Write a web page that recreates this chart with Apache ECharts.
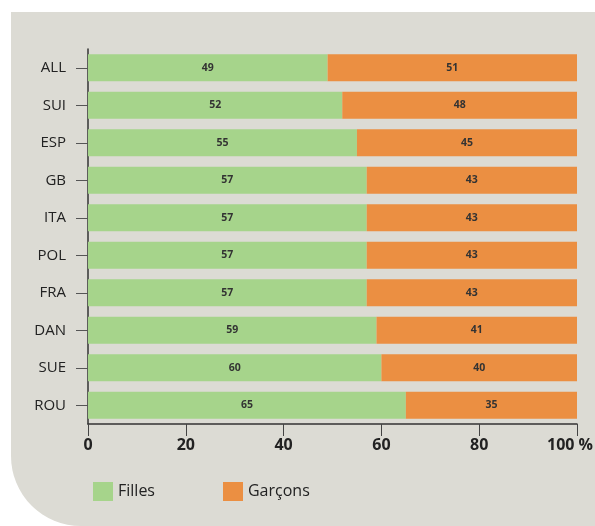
<!DOCTYPE html>
<html>
<head>
<meta charset="utf-8">
<script src="https://cdn.jsdelivr.net/npm/echarts@6/dist/echarts.min.js"></script>
<style>
  html, body { margin: 0; padding: 0; background: #ffffff; }
  .panel {
    position: absolute; left: 11px; top: 12px; width: 584px; height: 514px;
    background: #dcdbd4; border-bottom-left-radius: 70px;
  }
  #chart { position: absolute; left: 0; top: 0; width: 595px; height: 526px; }
</style>
</head>
<body>
<div class="panel"></div>
<div id="chart"></div>
<script>
// pays (du haut vers le bas)
var pays = ['ALL', 'SUI', 'ESP', 'GB', 'ITA', 'POL', 'FRA', 'DAN', 'SUE', 'ROU']
// parts en %
var filles = [49, 52, 55, 57, 57, 57, 57, 59, 60, 65]
var garcons = [51, 48, 45, 43, 43, 43, 43, 41, 40, 35]
var xTicks = [0, 20, 40, 60, 80, 100]

var font = '"Open Sans", "Noto Sans", sans-serif'

var barLabel = {
  show: true,
  position: 'inside',
  color: '#333333',
  fontSize: 10.5,
  fontWeight: 'bold',
  fontFamily: font
}

var myChart = echarts.init(document.getElementById('chart'))
myChart.setOption({
  animation: false,
  textStyle: { fontFamily: font },
  grid: { left: 88, right: 18, top: 49, bottom: 102, outerBoundsMode: 'none', containLabel: false },
  legend: {
    left: 88,
    top: 477,
    itemWidth: 20,
    itemHeight: 19,
    itemGap: 68,
    icon: 'rect',
    textStyle: { fontSize: 16, color: '#222222', fontFamily: font },
    data: ['Filles', 'Garçons']
  },
  xAxis: {
    type: 'value',
    min: xTicks[0],
    max: xTicks[xTicks.length - 1],
    interval: 20,
    splitLine: { show: false },
    axisLine: { show: true, lineStyle: { color: '#333333', width: 1.5 } },
    axisTick: { show: true, length: 12, lineStyle: { color: '#444444' } },
    axisLabel: {
      margin: 13,
      fontSize: 16,
      fontWeight: 'bold',
      color: '#222222',
      formatter: function (v) {
        return v === 100 ? '{e|100 %}' : String(v)
      },
      rich: {
        e: { fontSize: 16, fontWeight: 'bold', color: '#222222', padding: [0, 14, 0, 0] }
      }
    }
  },
  yAxis: {
    type: 'category',
    inverse: true,
    data: pays,
    axisLine: { show: true, lineStyle: { color: '#333333', width: 1.5 } },
    axisTick: { show: true, length: 12, alignWithLabel: true, lineStyle: { color: '#555555' } },
    axisLabel: { margin: 22, fontSize: 15, color: '#222222' }
  },
  series: [
    {
      name: 'Filles',
      type: 'bar',
      stack: 'total',
      barWidth: 27,
      itemStyle: { color: '#a6d48b' },
      label: barLabel,
      data: filles
    },
    {
      name: 'Garçons',
      type: 'bar',
      stack: 'total',
      barWidth: 27,
      itemStyle: { color: '#eb8f42' },
      label: barLabel,
      data: garcons
    }
  ]
})
</script>
</body>
</html>
